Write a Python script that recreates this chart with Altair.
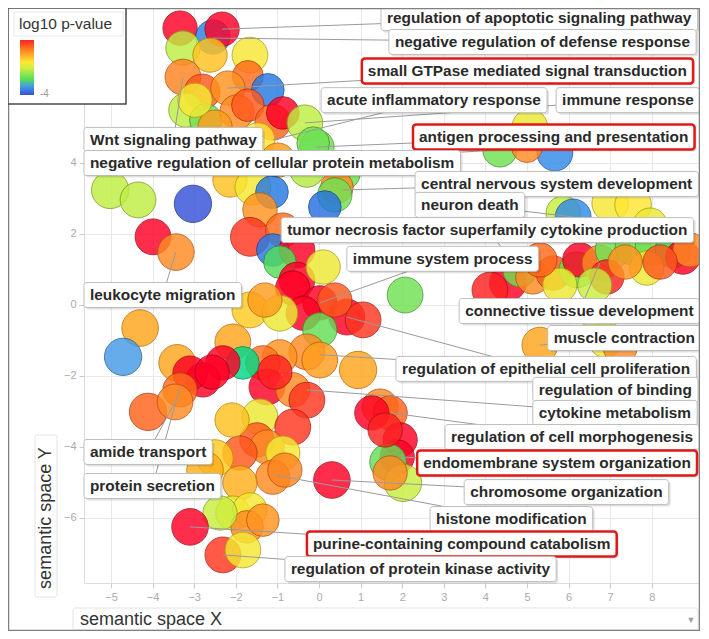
import altair as alt
import pandas as pd

# ---------------- data (semantic space coordinates) ----------------
bubble_x = [-3.34, -2.55, -2.33, -3.27, -1.66, -2.62, -3.27, -2.81, -1.71, -2.19,
            -1.23, -3.20, -2.72, -1.97, -1.71, -1.11, -0.87, -0.34, -0.05, -2.50,
            -1.47, -0.99, -2.14, -1.59, -2.98, -0.14, -0.29, 0.58, 0.43, 0.38,
            0.14, -1.13, -1.42, -1.66, -0.87, -1.11, -0.53, -0.94, -0.53, 0.10,
            -5.02, -4.35, -3.03, -3.99, -3.44, 2.07, -0.63, 0.02, -0.38, 0.67,
            1.06, -1.66, -0.94, -1.30, 0.02, 0.38, -0.29, -0.94, -1.35, 0.02,
            -1.25, -0.63, -0.29, 0.94, -1.06, -4.30, -4.71, -3.41, -2.07, -1.83,
            -2.31, -2.79, -3.10, -3.34, -4.11, -3.46, -2.57, -1.42, -0.63, -1.49,
            -1.25, -1.90, -0.87, -2.50, -2.74, -1.11, -1.90, -0.82, -2.07, -1.66,
            -1.73, -1.35, -2.38, -3.10, -2.31, -1.83, 0.31, -2.09, 1.47, 1.71,
            1.27, 1.95, 1.88, 1.66, 2.02, 1.71, 1.59, 4.54, 4.83, 5.14,
            5.63, 6.20, 6.27, 6.75, 7.07, 7.55, 8.03, 8.51, 8.75, 8.92,
            7.88, 6.92, 5.79, 4.11, 5.31, 7.36, 8.20, 6.63, 5.07, 4.35,
            5.67, 5.00, 7.00, 7.55, 5.87, 6.11, 7.96, 5.31, 6.88, 7.24,
            6.75, -1.90]
bubble_y = [7.80, 7.55, 7.77, 7.24, 7.04, 7.04, 6.42, 6.00, 6.45, 6.11,
            6.06, 5.49, 5.21, 5.44, 5.63, 5.15, 5.41, 5.13, 4.45, 5.01,
            4.65, 4.08, 3.52, 3.32, 5.77, 4.56, 3.80, 3.72, 3.32, 3.10,
            2.76, 3.18, 2.68, 1.92, 2.11, 1.55, 1.55, 1.21, 0.70, 1.07,
            3.24, 2.96, 2.85, 1.92, 1.49, 0.28, 0.48, 0.06, -0.23, -0.34,
            -0.42, -0.14, -0.23, 0.14, -0.70, 0.14, -1.32, -1.46, -1.63, -1.55,
            -2.31, -2.39, -2.68, -1.83, -1.89, -0.65, -1.46, -1.63, -1.04, -1.63,
            -1.63, -2.11, -1.92, -2.39, -3.01, -2.73, -1.89, -3.15, -3.44, -3.80,
            -4.00, -4.17, -4.17, -4.31, -4.65, -4.85, -5.01, -4.65, -5.86, -5.77,
            -6.25, -6.06, -5.86, -6.25, -7.04, -6.90, -4.93, -3.24, -2.87, -3.04,
            -3.04, -3.80, -4.28, -4.42, -5.01, -4.73, -3.52, 0.62, 0.99, 0.79,
            0.90, 0.99, 1.27, 1.18, 1.55, 1.63, 1.63, 1.55, 1.35, 1.55,
            1.04, 0.79, 0.56, 0.42, 1.27, 1.21, 1.21, 0.56, 5.01, 4.37,
            4.28, 4.45, 2.87, 2.82, 2.59, 2.48, 2.25, -1.13, -0.99, -1.18,
            -0.37, 4.23]
bubble_log10p = [-1.40, -3.75, -1.40, -2.85, -2.55, -2.30, -1.95, -1.70, -1.80, -2.05,
                 -3.80, -2.85, -3.20, -2.00, -1.70, -1.75, -1.40, -2.85, -3.20, -2.10,
                 -2.50, -2.10, -2.30, -2.55, -2.55, -3.20, -2.90, -3.20, -2.00, -3.20,
                 -3.85, -3.80, -2.05, -1.55, -1.80, -3.80, -1.40, -3.30, -1.40, -2.60,
                 -2.85, -2.85, -4.00, -1.40, -2.00, -3.20, -1.40, -1.40, -1.45, -1.45,
                 -1.55, -2.35, -2.60, -2.10, -3.25, -1.70, -2.00, -2.05, -1.85, -2.10,
                 -1.45, -2.00, -1.55, -2.15, -1.50, -2.15, -3.60, -2.15, -2.15, -3.35,
                 -1.40, -1.40, -1.45, -1.80, -1.75, -2.00, -1.40, -2.60, -1.55, -1.70,
                 -2.00, -1.70, -2.55, -2.35, -2.20, -2.00, -2.20, -1.95, -2.60, -2.55,
                 -2.00, -2.05, -2.80, -1.40, -1.55, -2.55, -1.40, -2.30, -2.00, -1.75,
                 -1.45, -1.45, -1.40, -3.25, -2.80, -2.00, -1.50, -1.45, -3.20, -2.00,
                 -1.70, -3.25, -1.45, -2.00, -3.20, -3.15, -3.20, -3.30, -1.45, -2.00,
                 -2.60, -1.50, -2.60, -1.50, -1.80, -2.05, -1.70, -2.80, -2.60, -3.20,
                 -3.70, -2.00, -2.55, -2.50, -2.80, -3.70, -2.60, -2.15, -2.60, -2.00,
                 -2.80, -2.35]
bubble_logsize = [3.0, 3.0, 3.0, 3.0, 3.2, 3.0, 3.2, 3.2, 2.6, 3.0,
                  2.8, 3.0, 2.8, 3.0, 2.8, 3.2, 2.8, 3.2, 3.0, 3.0,
                  3.0, 3.0, 3.0, 3.2, 3.0, 2.8, 3.0, 3.0, 2.8, 3.0,
                  2.8, 2.8, 3.0, 3.6, 3.0, 2.8, 3.2, 2.8, 3.2, 3.0,
                  3.4, 3.2, 3.4, 3.2, 3.3, 3.2, 3.0, 3.0, 3.0, 3.2,
                  3.2, 3.2, 3.2, 3.0, 3.0, 3.0, 3.2, 3.0, 3.0, 3.2,
                  3.2, 3.0, 3.2, 3.4, 3.0, 3.3, 3.4, 3.3, 3.2, 2.8,
                  3.0, 3.0, 3.0, 3.0, 3.4, 3.2, 3.0, 3.2, 3.2, 3.0,
                  3.0, 3.0, 3.0, 3.3, 3.3, 3.0, 3.0, 3.0, 3.0, 3.0,
                  2.8, 2.8, 3.0, 3.3, 3.2, 3.2, 3.3, 3.0, 3.2, 3.0,
                  3.0, 3.0, 3.0, 3.3, 3.4, 3.0, 3.0, 3.3, 3.0, 3.0,
                  3.0, 3.2, 3.0, 3.2, 3.2, 3.2, 3.2, 3.2, 3.0, 3.0,
                  3.0, 3.0, 3.0, 3.2, 3.0, 3.0, 3.0, 3.0, 3.2, 3.0,
                  3.2, 2.6, 3.3, 3.3, 3.0, 3.2, 3.0, 3.2, 3.0, 3.0,
                  3.0, 3.0]

label_text = [
    "regulation of apoptotic signaling pathway",
    "negative regulation of defense response",
    "small GTPase mediated signal transduction",
    "acute inflammatory response",
    "immune response",
    "Wnt signaling pathway",
    "antigen processing and presentation",
    "negative regulation of cellular protein metabolism",
    "central nervous system development",
    "neuron death",
    "tumor necrosis factor superfamily cytokine production",
    "immune system process",
    "leukocyte migration",
    "connective tissue development",
    "muscle contraction",
    "regulation of epithelial cell proliferation",
    "regulation of binding",
    "cytokine metabolism",
    "regulation of cell morphogenesis",
    "endomembrane system organization",
    "chromosome organization",
    "histone modification",
    "purine-containing compound catabolism",
    "regulation of protein kinase activity",
    "amide transport",
    "protein secretion",
]
label_left = [1.49, 1.68, 1.03, 0.05, 5.70, -5.65, 2.26, -5.65, 2.31, 2.31,
              -0.91, 0.67, -5.65, 3.37, 5.50, 1.85, 5.14, 5.14, 3.03, 2.36,
              3.49, 2.67, -0.29, -0.82, -5.65, -5.65]
label_y = [8.08, 7.41, 6.59, 5.77, 5.77, 4.65, 4.73, 4.00, 3.41, 2.82,
           2.11, 1.30, 0.28, -0.17, -0.93, -1.80, -2.39, -3.04, -3.72, -4.45,
           -5.27, -6.03, -6.73, -7.44, -4.14, -5.10]
label_highlight = [0, 0, 1, 0, 0, 0, 1, 0, 0, 0,
                   0, 0, 0, 0, 0, 0, 0, 0, 0, 1,
                   0, 0, 1, 0, 0, 0]
label_target_x = [-2.33, -2.55, -2.21, -1.11, -0.34, -3.27, -0.05, 4.35, 0.58, 6.11,
                  4.83, 0.02, -3.44, 6.75, 5.31, 0.02, 0.67, -0.29, 1.71, 1.88,
                  0.31, -1.06, -3.10, -2.31, -3.46, -3.34]
label_target_y = [7.77, 7.52, 6.11, 4.65, 5.13, 6.42, 4.45, 4.37, 3.24, 2.48,
                  0.99, 0.06, 1.49, 1.18, -1.13, -1.40, -0.34, -2.39, -3.04, -4.28,
                  -4.93, -4.79, -6.25, -7.04, -2.73, -2.31]

x_ticks = [-5, -4, -3, -2, -1, 0, 1, 2, 3, 4, 5, 6, 7, 8]
y_ticks = [-6, -4, -2, 0, 2, 4]

legend_title = "log10 p-value"
legend_label = "-4"
color_domain = [-4.0, -3.6, -3.3, -2.8, -2.5, -2.0, -1.5]
fill_range = ["#3552d8", "#459be6", "#55dd5a", "#c9ee40", "#ffe633", "#ff8a22", "#ff2222"]
stroke_range = ["#1d2f88", "#22609a", "#2e8f33", "#86a020", "#b8a012", "#b8520f", "#a81010"]

# ---------------- layout helpers ----------------
X_DOMAIN = [-5.649, 9.159]
Y_DOMAIN = [-7.831, 8.366]
W, H = 616, 575
PX_X = W / (X_DOMAIN[1] - X_DOMAIN[0])
PX_Y = H / (Y_DOMAIN[1] - Y_DOMAIN[0])
FONT = "Liberation Sans"
LABEL_SIZE = 15.4

BOLD = {"a": 556, "b": 611, "c": 556, "d": 611, "e": 556, "f": 333, "g": 611, "h": 611,
        "i": 278, "j": 278, "k": 556, "l": 278, "m": 889, "n": 611, "o": 611, "p": 611,
        "q": 611, "r": 389, "s": 556, "t": 333, "u": 611, "v": 556, "w": 778, "x": 556,
        "y": 556, "z": 500, " ": 278, "-": 333, "G": 778, "T": 611, "P": 667, "W": 944}


def text_width(s, size):
    return sum(BOLD.get(c, 611) for c in s) * size / 1000.0


bubbles = pd.DataFrame({"x": bubble_x, "y": bubble_y, "p": bubble_log10p, "s": bubble_logsize})

rights, tops, bottoms, cxs = [], [], [], []
for t, l, yy in zip(label_text, label_left, label_y):
    r = l + (text_width(t, LABEL_SIZE) + 12) / PX_X
    rights.append(r)
    tops.append(yy + 12.5 / PX_Y)
    bottoms.append(yy - 12.5 / PX_Y)
    cxs.append((l + r) / 2)
labels = pd.DataFrame({
    "text": label_text, "x": label_left, "x2": rights, "y": label_y,
    "top": tops, "bottom": bottoms, "cx": cxs,
    "tx": label_target_x, "ty": label_target_y, "hl": label_highlight,
})

xscale = alt.Scale(domain=X_DOMAIN, nice=False, zero=False)
yscale = alt.Scale(domain=Y_DOMAIN, nice=False, zero=False)
xaxis = alt.Axis(values=x_ticks, title=None, grid=True, gridColor="#e9e9e9",
                 labelColor="#aaaaaa", labelFontSize=11, labelFont=FONT, tickColor="#cccccc",
                 tickSize=5, domain=False, labelPadding=3)
yaxis = alt.Axis(values=y_ticks, title=None, grid=True, gridColor="#e9e9e9",
                 labelColor="#aaaaaa", labelFontSize=11, labelFont=FONT, tickColor="#cccccc",
                 tickSize=5, domain=False, labelPadding=3)


def X(f):
    return alt.X(f, type="quantitative", scale=xscale, axis=xaxis)


def Y(f):
    return alt.Y(f, type="quantitative", scale=yscale, axis=yaxis)


circles = alt.Chart(bubbles).mark_circle(opacity=0.82, strokeWidth=1).encode(
    x=X("x"), y=Y("y"),
    fill=alt.Fill("p:Q", scale=alt.Scale(domain=color_domain, range=fill_range), legend=None),
    stroke=alt.Stroke("p:Q", scale=alt.Scale(domain=color_domain, range=stroke_range), legend=None),
    size=alt.Size("s:Q", scale=alt.Scale(domain=[2.5, 3.6], range=[900, 1500]), legend=None),
)

base = alt.Chart(labels)
connectors = base.mark_rule(color="#9a9a9a", strokeWidth=1).encode(
    x=X("tx"), y=Y("ty"), x2="cx:Q", y2="y:Q")
shadows = base.mark_rect(fill="#000000", opacity=0.12, cornerRadius=3,
                         xOffset=2, x2Offset=2, yOffset=2, y2Offset=2).encode(
    x=X("x"), x2="x2:Q", y=Y("top"), y2="bottom:Q")
boxes = base.mark_rect(fill="white", cornerRadius=3).encode(
    x=X("x"), x2="x2:Q", y=Y("top"), y2="bottom:Q",
    stroke=alt.condition(alt.datum.hl == 1, alt.value("#e01818"), alt.value("#bdbdbd")),
    strokeWidth=alt.condition(alt.datum.hl == 1, alt.value(2.5), alt.value(1)),
)
texts = base.mark_text(align="left", baseline="middle", dx=6, font=FONT, fontSize=LABEL_SIZE,
                       fontWeight="bold", color="#2a2a2a").encode(
    x=X("x"), y=Y("y"), text="text:N")

# ---------------- axis title boxes, legend, frame ----------------
one = alt.Chart(pd.DataFrame({"k": [0]}))
ybox = one.mark_rect(fill="white", stroke="#e2e2e2", cornerRadius=2).encode(
    x=alt.value(-49), x2=alt.value(-27), y=alt.value(427), y2=alt.value(589))
ytitle = one.mark_text(text="semantic space Y", angle=270, font=FONT, fontSize=18,
                       color="#333333", baseline="middle", align="center").encode(
    x=alt.value(-38), y=alt.value(510))
xbox = one.mark_rect(fill="white", stroke="#e2e2e2", cornerRadius=2).encode(
    x=alt.value(-11), x2=alt.value(614), y=alt.value(600), y2=alt.value(622))
xtitle = one.mark_text(text="semantic space X", font=FONT, fontSize=18, color="#333333",
                       baseline="middle", align="left").encode(
    x=alt.value(-4), y=alt.value(612))
arrow = one.mark_text(text="▼", fontSize=9, color="#a0a0a0", baseline="middle").encode(
    x=alt.value(607), y=alt.value(612))

top_v, bot_v = color_domain[-1], color_domain[0]
grad = alt.Gradient(
    gradient="linear", x1=0, x2=0, y1=0, y2=1,
    stops=[alt.GradientStop(color=c, offset=(top_v - v) / (top_v - bot_v))
           for v, c in sorted(zip(color_domain, fill_range), key=lambda t: -t[0])])
leg_box = one.mark_rect(fill="white", stroke="#4a4a4a", strokeWidth=1.5).encode(
    x=alt.value(-76), x2=alt.value(42), y=alt.value(0), y2=alt.value(96))
leg_tbox = one.mark_rect(fill="white", stroke="#e6e6e6").encode(
    x=alt.value(-70), x2=alt.value(39), y=alt.value(4), y2=alt.value(28))
leg_title = one.mark_text(text=legend_title, font=FONT, fontSize=15.5, color="#333333",
                          align="left", baseline="middle").encode(
    x=alt.value(-65), y=alt.value(16))
leg_grad = one.mark_rect(fill=grad).encode(
    x=alt.value(-64), x2=alt.value(-50), y=alt.value(32), y2=alt.value(87))
leg_label = one.mark_text(text=legend_label, font=FONT, fontSize=10, color="#9a9a9a",
                          align="left", baseline="middle").encode(
    x=alt.value(-44), y=alt.value(86))
frame = one.mark_rect(fill=None, stroke="#808080", strokeWidth=1.5).encode(
    x=alt.value(-75.5), x2=alt.value(615.5), y=alt.value(0.5), y2=alt.value(622.5))

chart = alt.layer(
    circles, connectors, shadows, boxes, texts, ybox, ytitle, xbox, xtitle, arrow,
    frame, leg_box, leg_tbox, leg_title, leg_grad, leg_label
).properties(
    width=W, height=H,
    autosize=alt.AutoSizeParams(type="none"),
    padding={"left": 76, "top": 0, "right": 0, "bottom": 48},
).configure_view(stroke="#cccccc", strokeWidth=1).configure(background="white")

chart.save("out.html", embed_options={"renderer": "svg", "actions": False})
